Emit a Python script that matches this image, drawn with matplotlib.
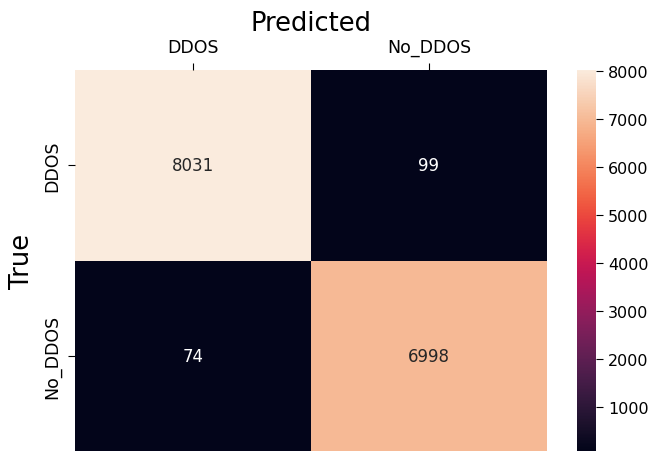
import numpy as np
import pandas as pd
import seaborn as sns
import matplotlib.pyplot as plt

labels = ['DDOS', 'No_DDOS']
row_ddos = [8031, 99]
row_no_ddos = [74, 6998]

cm = pd.DataFrame([row_ddos, row_no_ddos], index=labels, columns=labels)

fig = plt.figure(figsize=(6.51, 4.52), dpi=100)
ax = fig.add_axes([0.115, -0.002, 0.725, 0.845])
cax = fig.add_axes([0.886, -0.002, 0.029, 0.845])

sns.heatmap(cm, annot=True, fmt='d', ax=ax, cbar_ax=cax,
            annot_kws={'fontsize': 12})
ax.xaxis.tick_top()
ax.xaxis.set_label_position('top')
ax.set_xlabel('Predicted', fontsize=18.5, labelpad=6)
ax.set_ylabel('True', fontsize=18.5, labelpad=6)
ax.tick_params(axis='both', labelsize=12.5, length=5, pad=5)
cax.tick_params(labelsize=11.5, length=5, pad=4)

fig.savefig('out.png', dpi=100)
